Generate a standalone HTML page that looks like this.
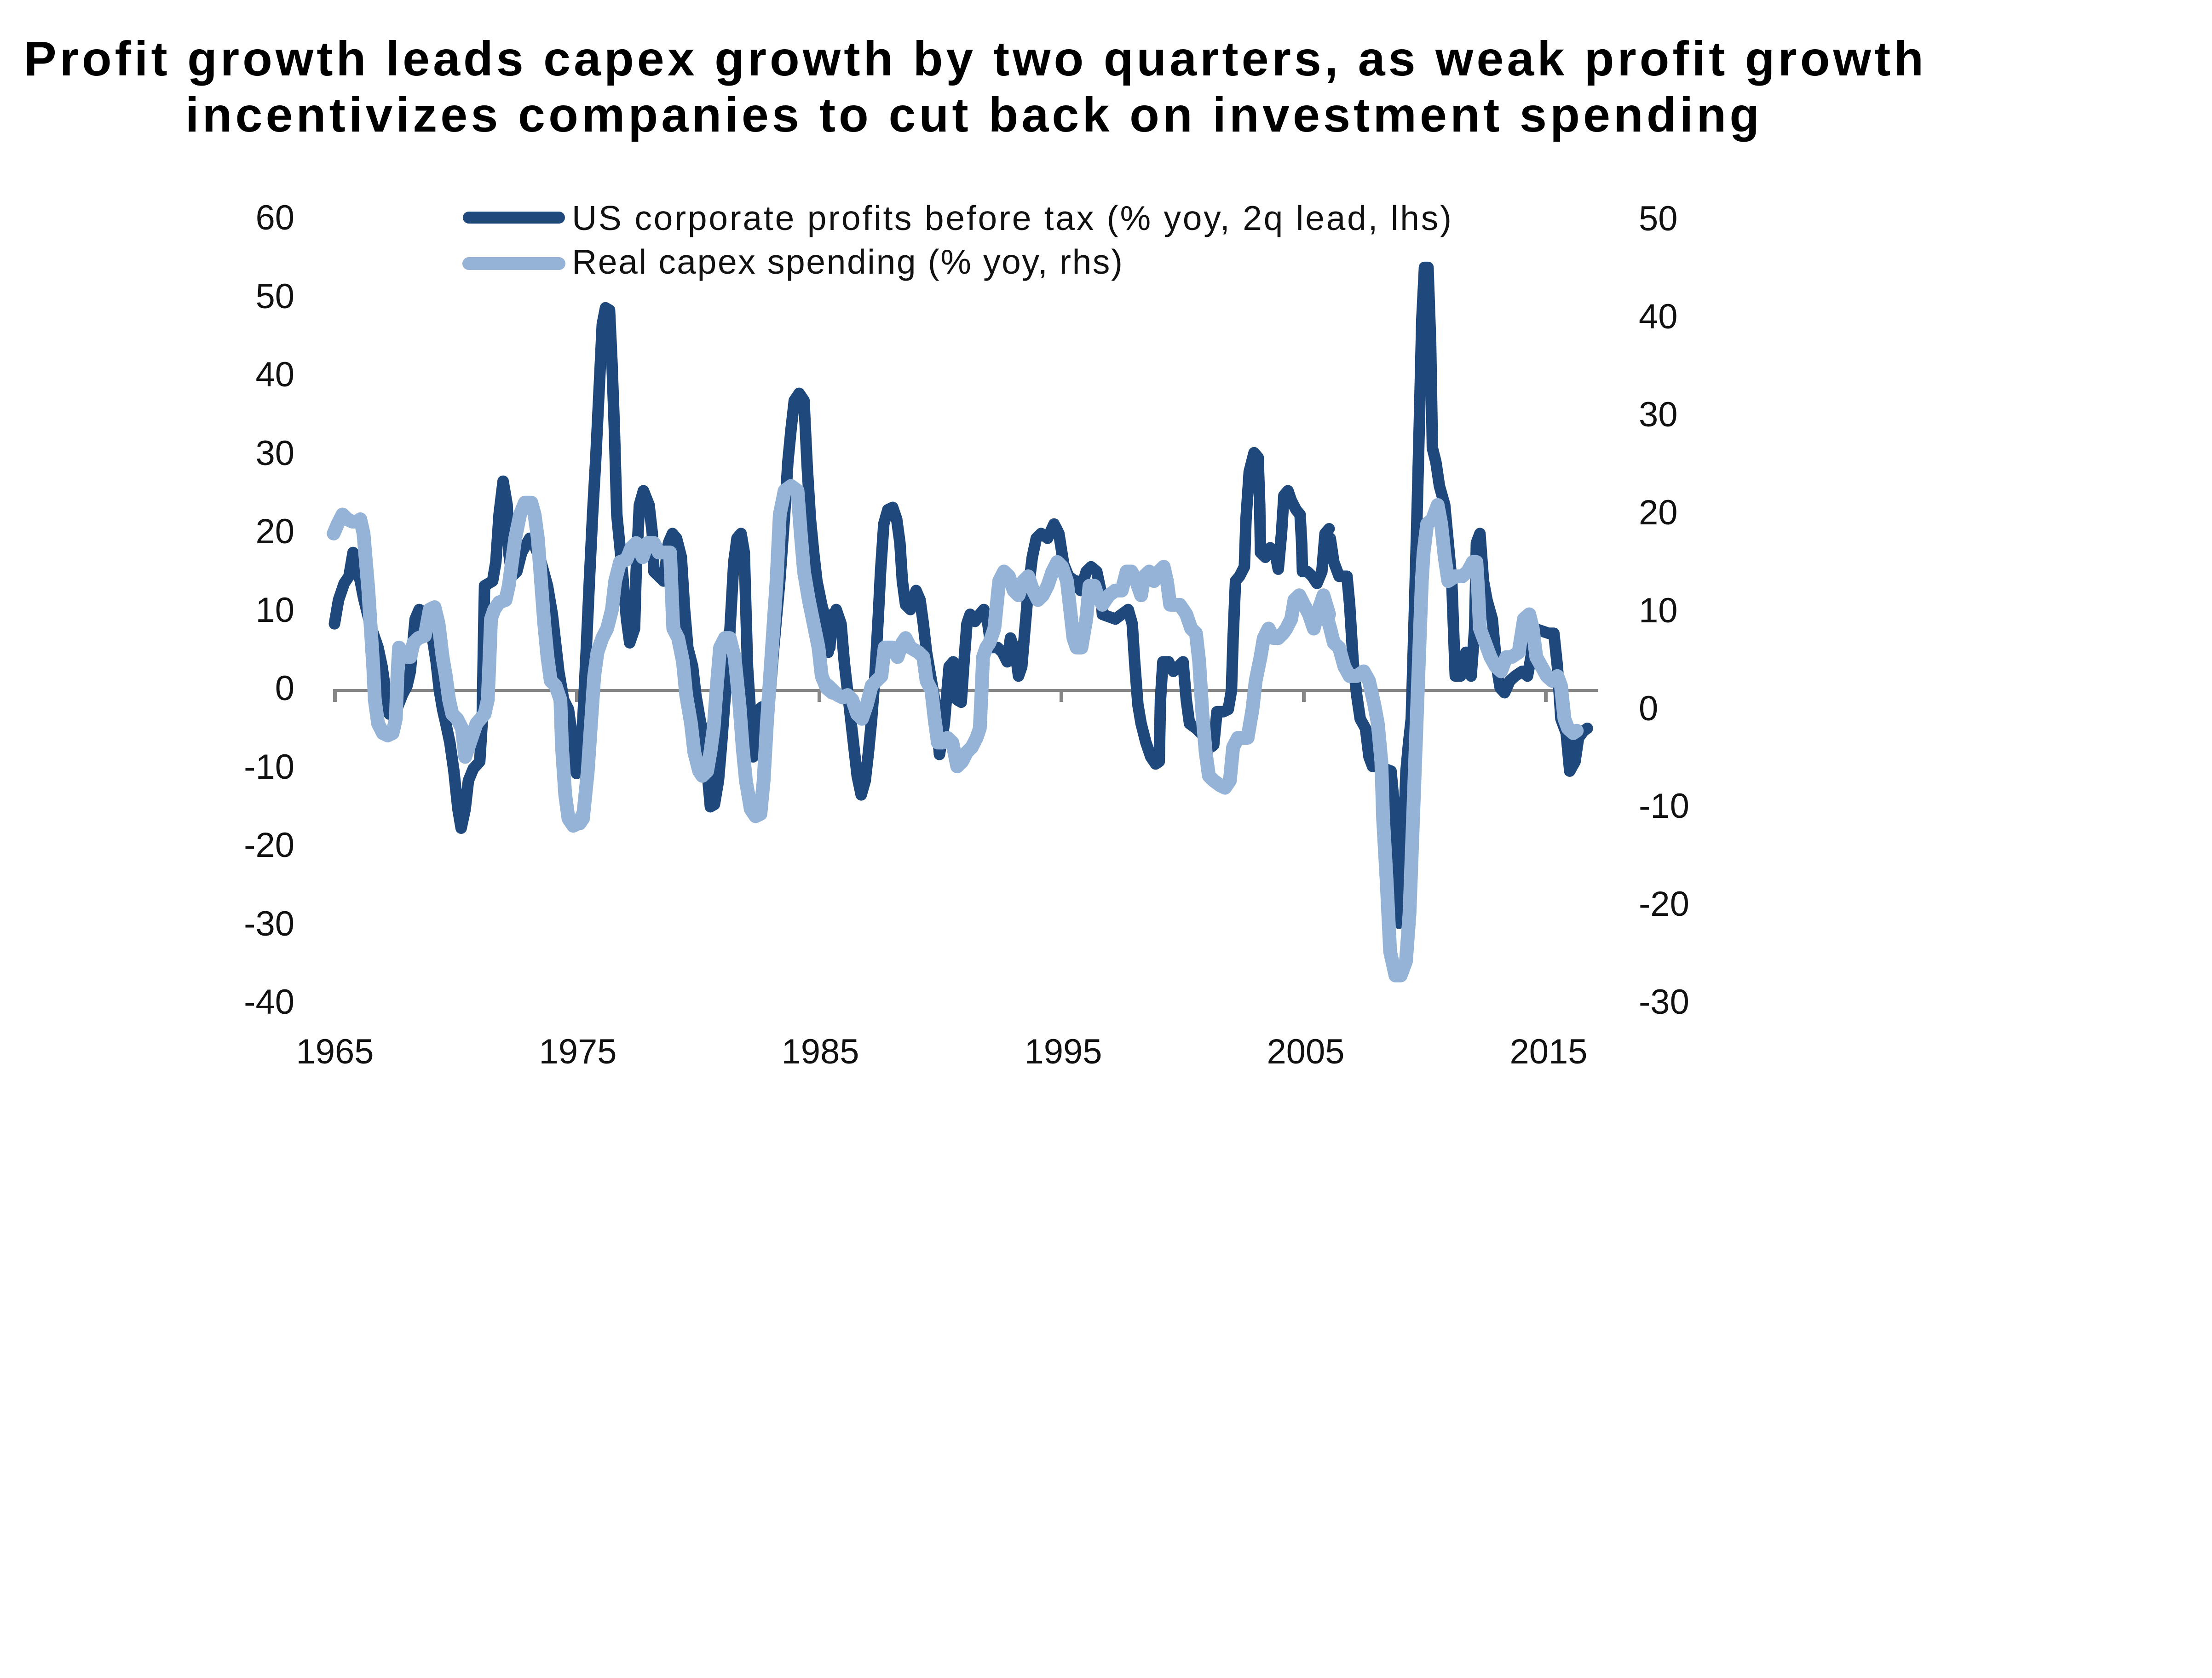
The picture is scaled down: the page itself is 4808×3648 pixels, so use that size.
<!DOCTYPE html>
<html>
<head>
<meta charset="utf-8">
<style>
html,body{margin:0;padding:0;background:#fff;}
svg{display:block;}
.t{font-family:"Liberation Sans",Arial,sans-serif;font-weight:bold;font-size:106px;fill:#000;}
.lg{font-family:"Liberation Sans",Arial,sans-serif;font-size:75px;fill:#111;}
.ax{font-family:"Liberation Sans",Arial,sans-serif;font-size:76px;fill:#111;}
.d{fill:none;stroke:#1F497D;stroke-width:25;stroke-linejoin:round;stroke-linecap:round;}
.l{fill:none;stroke:#95B3D7;stroke-width:30;stroke-linejoin:round;stroke-linecap:round;}
</style>
</head>
<body>
<svg width="4808" height="3648" viewBox="0 0 4808 3648" xmlns="http://www.w3.org/2000/svg">
<rect x="0" y="0" width="4808" height="3648" fill="#fff"/>

<!-- Title -->
<text class="t" x="52" y="164" textLength="4129">Profit growth leads capex growth by two quarters, as weak profit growth</text>
<text class="t" x="403" y="286" textLength="3421">incentivizes companies to cut back on investment spending</text>

<!-- Legend -->
<line x1="1019" y1="473" x2="1215" y2="473" stroke="#1F497D" stroke-width="26" stroke-linecap="round"/>
<line x1="1019" y1="573" x2="1215" y2="573" stroke="#95B3D7" stroke-width="28" stroke-linecap="round"/>
<text class="lg" x="1243" y="500" textLength="1912">US corporate profits before tax (% yoy, 2q lead, lhs)</text>
<text class="lg" x="1243" y="595" textLength="1197">Real capex spending (% yoy, rhs)</text>

<!-- Left axis labels -->
<g class="ax" text-anchor="end">
<text x="640" y="499">60</text>
<text x="640" y="670">50</text>
<text x="640" y="840">40</text>
<text x="640" y="1011">30</text>
<text x="640" y="1181">20</text>
<text x="640" y="1352">10</text>
<text x="640" y="1522">0</text>
<text x="640" y="1693">-10</text>
<text x="640" y="1863">-20</text>
<text x="640" y="2034">-30</text>
<text x="640" y="2204">-40</text>
</g>

<!-- Right axis labels -->
<g class="ax" text-anchor="start">
<text x="3562" y="501">50</text>
<text x="3562" y="714">40</text>
<text x="3562" y="927">30</text>
<text x="3562" y="1140">20</text>
<text x="3562" y="1353">10</text>
<text x="3562" y="1566">0</text>
<text x="3562" y="1778">-10</text>
<text x="3562" y="1991">-20</text>
<text x="3562" y="2204">-30</text>
</g>

<!-- X labels -->
<g class="ax" text-anchor="middle">
<text x="728" y="2312">1965</text>
<text x="1256" y="2312">1975</text>
<text x="1783" y="2312">1985</text>
<text x="2311" y="2312">1995</text>
<text x="2838" y="2312">2005</text>
<text x="3366" y="2312">2015</text>
</g>

<!-- Zero axis and ticks -->
<line x1="727" y1="1501" x2="3474" y2="1501" stroke="#868686" stroke-width="6"/>
<g stroke="#868686" stroke-width="8">
<line x1="728" y1="1498" x2="728" y2="1526"/>
<line x1="1254" y1="1498" x2="1254" y2="1526"/>
<line x1="1781" y1="1498" x2="1781" y2="1526"/>
<line x1="2307" y1="1498" x2="2307" y2="1526"/>
<line x1="2834" y1="1498" x2="2834" y2="1526"/>
<line x1="3360" y1="1498" x2="3360" y2="1526"/>
</g>

<!-- Dark series (profits) -->
<g transform="translate(720 540) scale(0.35075 1.0331)">
<polyline class="d" vector-effect="non-scaling-stroke" points="20,790 45,740 80,705 110,690 135,640 155,670 180,700 200,735 240,790 290,840 315,880 340,940 360,980 400,975 440,940 470,920 490,890 520,780 545,760 570,765 595,790 625,815 650,870 670,930 690,970 710,1000 735,1040 760,1100 785,1180 805,1220 830,1180 850,1120 880,1095 920,1080 935,1000 945,800 950,710 1000,700 1020,660 1040,560 1065,490 1090,540 1100,640 1120,690 1150,680 1180,640 1230,610 1260,625 1300,660 1340,710 1370,770 1390,830 1410,890 1440,950 1470,970 1490,1020 1505,1090 1520,1105 1540,1060 1560,1000"/>
</g>
<g transform="translate(1260 540) scale(0.35075 1.0331)">
<polyline class="d" vector-effect="non-scaling-stroke" points="0,1080 20,990 40,850 60,700 80,560 100,440 120,300 140,160 160,125 185,130 200,240 215,380 230,560 250,630 270,700 290,780 310,830 340,800 350,680 370,540 395,510 430,540 450,600 460,680 490,690 520,700 550,620 575,600 600,610 630,650 650,760 670,840 700,880 720,940 750,1000 775,1020 790,1100 810,1175 835,1170 860,1120 880,1040 900,950 920,870 940,750 955,660 975,610 1000,600 1020,640 1030,760 1040,880 1055,960 1075,1070 1095,975 1130,965 1140,1040 1170,980 1200,850 1240,700 1270,560 1290,450 1310,380 1330,320 1360,305 1390,320 1410,460 1430,570 1450,640 1470,700 1500,750 1530,790 1550,840 1565,770"/>
</g>
<g transform="translate(1800 540) scale(0.35075 1.0331)">
<polyline class="d" vector-effect="non-scaling-stroke" points="0,850 30,780 50,760 80,790 100,870 120,930 140,990 160,1050 180,1110 205,1150 230,1120 250,1060 270,990 290,900 310,780 325,680 345,580 370,550 400,545 425,570 445,620 460,700 480,750 510,760 545,720 570,740 590,790 610,850 640,910 665,960 690,1065 720,1000 735,940 750,880 775,870 800,950 825,955 840,880 860,790 880,770 910,785 940,770 965,760 990,790 1010,840 1050,840 1080,850 1110,870 1130,820 1160,850 1180,900 1200,880 1220,800 1240,720 1265,650 1290,610 1320,600 1360,610 1400,580 1430,600 1460,665 1490,690 1530,700 1565,720"/>
</g>
<g transform="translate(2340 540) scale(0.35075 1.0331)">
<polyline class="d" vector-effect="non-scaling-stroke" points="0,700 30,715 60,680 90,670 125,680 150,720 160,770 200,775 240,780 280,770 320,760 345,790 360,870 380,960 400,1000 430,1040 460,1070 490,1085 512,1080 520,950 535,870 570,870 600,890 630,880 660,870 680,950 700,1000 740,1010 770,1020 800,1030 830,1050 850,1045 870,975 910,975 940,970 960,930 970,820 985,700 1010,690 1040,670 1050,570 1070,470 1100,430 1125,440 1135,540 1140,640 1170,650 1200,630 1230,640 1250,675 1270,600 1285,520 1310,510 1330,530 1360,550 1385,560 1395,620 1400,680 1430,680 1460,690 1490,705 1520,680 1540,600 1565,590"/>
</g>
<g transform="translate(2880 540) scale(0.3827 1.0331)">
<polyline class="d" vector-effect="non-scaling-stroke" points="0,620 30,610 50,660 80,690 125,690 140,750 160,870 180,940 200,990 230,1010 250,1070 270,1090 300,1090 340,1095 375,1100 400,1200 420,1420 440,1300 460,1100 475,1040 490,990 505,800 520,600 535,380 550,150 565,40 585,40 600,200 610,420 630,450 650,500 680,540 700,620 720,700 730,800 740,900 770,900 800,850 830,900 850,800 860,620 880,600 900,700 920,740 950,780 975,880 995,925 1020,935 1050,910 1080,900 1120,890 1150,900 1170,860 1190,800 1230,805 1270,810 1300,810 1320,880 1340,990 1370,1020 1390,1100 1420,1080 1440,1030 1470,1015 1490,1010"/>
</g>

<!-- Light series (capex) -->
<g transform="translate(720 540) scale(0.35075 1.0331)">
<polyline class="l" vector-effect="non-scaling-stroke" points="15,600 40,580 70,560 100,570 130,575 160,575 180,570 200,600 215,660 230,720 245,800 260,880 270,950 290,1000 320,1020 350,1025 380,1020 400,990 410,900 420,840 440,850 470,860 490,860 510,830 540,820 580,815 610,760 640,755 665,790 690,860 710,900 730,950 750,980 780,990 810,1010 830,1070 850,1050 880,1020 900,1000 950,980 970,950 980,870 990,780 1010,760 1040,745 1080,740 1100,710 1120,660 1140,610 1170,560 1200,535 1240,535 1260,560 1280,610 1300,700 1320,790 1340,860 1360,910 1390,920 1420,950 1430,1050 1450,1150 1470,1200 1500,1215 1530,1210 1560,1190"/>
</g>
<g transform="translate(1260 540) scale(0.35075 1.0331)">
<polyline class="l" vector-effect="non-scaling-stroke" points="0,1210 20,1200 50,1100 70,1000 90,900 110,850 140,820 170,800 200,760 220,700 250,660 290,655 320,630 350,620 390,650 420,620 460,620 490,640 530,640 560,640 570,720 580,800 610,820 640,870 660,940 690,1000 710,1060 740,1100 760,1110 790,1100 810,1060 830,1010 850,920 870,840 900,820 930,820 960,860 990,960 1010,1050 1030,1120 1060,1180 1090,1195 1120,1190 1140,1120 1160,1000 1180,900 1200,800 1220,700 1240,560 1270,510 1310,500 1350,510 1370,600 1390,680 1420,740 1450,790 1480,840 1500,900 1530,925 1565,935"/>
</g>
<g transform="translate(1800 540) scale(0.35075 1.0331)">
<polyline class="l" vector-effect="non-scaling-stroke" points="0,920 30,930 60,940 90,945 120,940 150,950 180,980 210,990 240,960 270,920 300,910 330,900 350,840 370,840 400,840 430,860 460,830 480,820 510,840 560,850 590,860 610,910 640,930 660,990 680,1040 710,1040 740,1030 770,1040 800,1090 830,1080 860,1060 890,1050 920,1030 940,1010 950,940 960,860 980,840 1000,830 1030,800 1060,700 1090,680 1120,690 1150,720 1180,730 1210,700 1240,690 1270,720 1300,740 1330,730 1360,710 1390,680 1420,660 1450,670 1480,700 1500,760 1520,820 1540,840 1565,840"/>
</g>
<g transform="translate(2340 540) scale(0.35075 1.0331)">
<polyline class="l" vector-effect="non-scaling-stroke" points="0,820 30,840 60,780 80,710 110,710 130,730 160,750 200,730 240,720 280,720 310,680 340,680 370,700 400,730 420,690 450,680 480,700 510,680 540,670 560,700 580,750 610,750 640,750 680,770 710,800 740,810 760,870 780,980 800,1060 820,1110 850,1120 890,1130 920,1135 950,1120 970,1050 1000,1030 1030,1030 1060,1030 1090,970 1110,910 1140,860 1160,820 1190,800 1220,820 1250,820 1280,810 1300,800 1330,780 1350,740 1380,730 1410,750 1440,770 1470,800 1500,760 1530,730 1565,770"/>
</g>
<g transform="translate(2880 540) scale(0.3827 1.0331)">
<polyline class="l" vector-effect="non-scaling-stroke" points="0,760 30,800 50,830 80,840 110,880 140,900 180,900 220,890 250,910 280,960 300,1000 320,1080 330,1200 350,1330 370,1480 400,1530 430,1530 460,1500 480,1400 500,1200 520,1000 540,800 550,700 560,640 580,580 610,570 640,540 660,580 680,650 700,700 740,690 780,690 810,680 840,660 860,660 870,720 880,800 910,830 940,860 970,880 1000,890 1030,860 1060,860 1100,850 1130,780 1160,770 1180,800 1200,860 1230,880 1260,900 1290,910 1320,900 1340,920 1360,990 1380,1010 1410,1020 1430,1015"/>
</g>
</svg>
</body>
</html>
